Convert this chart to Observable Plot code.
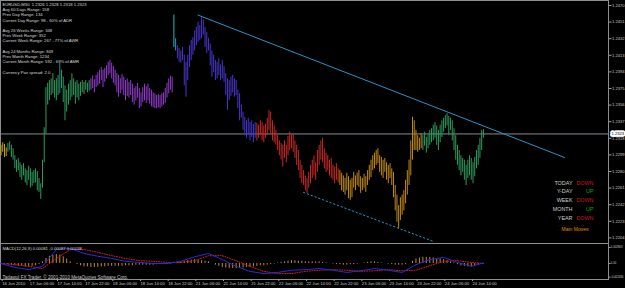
<!DOCTYPE html>
<html><head><meta charset="utf-8">
<script src="https://cdn.jsdelivr.net/npm/d3@7"></script>
<script src="https://cdn.jsdelivr.net/npm/@observablehq/plot@0.6"></script>
<style>
html,body{margin:0;padding:0;background:#000;}
#chart{width:625px;height:288px;overflow:hidden;position:relative;background:#000;}
#chart svg{display:block;}
</style></head><body><div id="chart"></div>
<script>
// ---------- DATA ----------
const symbol = "EURUSD,M30";
const lastBar = {open: 1.2326, high: 1.2328, low: 1.2318, close: 1.2323};

// 30-minute bars, 16 Jun 22:00 .. 24 Jun 17:30 (high / low)
const highs = [
1.2310,1.2313,1.2311,1.2307,
1.2312,1.2314,1.2310,1.2306,1.2298,1.2293,1.2295,1.2290,1.2287,1.2289,
1.2283,1.2281,1.2286,1.2283,1.2279,1.2281,1.2283,1.2280,1.2272,1.2266,
1.2293,1.2330,1.2376,1.2381,1.2384,1.2386,1.2392,1.2384,1.2386,1.2390,
1.2404,1.2396,1.2388,1.2378,1.2373,1.2380,1.2384,1.2392,1.2386,1.2382,
1.2384,1.2380,1.2382,1.2384,1.2382,1.2384,1.2381,1.2384,
1.2386,1.2389,1.2385,1.2390,1.2393,1.2396,1.2399,1.2396,1.2398,1.2401,
1.2405,1.2407,1.2404,1.2400,1.2396,1.2392,1.2390,1.2386,1.2391,1.2388,
1.2384,1.2386,1.2382,1.2384,1.2380,1.2375,1.2377,1.2381,1.2375,1.2370,
1.2376,1.2380,1.2377,1.2380,1.2375,1.2373,1.2370,1.2369,1.2367,1.2368,
1.2367,1.2369,1.2370,1.2375,1.2381,1.2386,1.2389,1.2388,
1.2459,1.2432,1.2424,1.2421,1.2418,1.2422,1.2413,1.2405,1.2413,1.2424,
1.2430,1.2433,1.2441,1.2445,1.2451,1.2447,1.2456,1.2453,1.2445,1.2439,
1.2432,1.2426,1.2418,1.2413,1.2407,1.2405,1.2409,1.2402,1.2407,1.2400,
1.2392,1.2386,1.2384,1.2388,1.2390,1.2386,1.2384,1.2373,1.2369,1.2356,
1.2348,1.2342,1.2338,1.2341,1.2336,1.2338,1.2334,1.2336,
1.2335,1.2333,1.2338,1.2336,1.2332,1.2334,1.2341,1.2350,1.2348,1.2338,
1.2332,1.2327,1.2321,1.2315,1.2312,1.2310,1.2315,1.2310,1.2320,1.2325,
1.2322,1.2323,1.2315,1.2310,1.2304,1.2293,1.2287,1.2281,1.2275,1.2272,
1.2279,1.2287,1.2293,1.2298,1.2290,1.2304,1.2310,1.2315,1.2318,1.2306,
1.2301,1.2298,1.2293,1.2295,1.2287,1.2285,1.2289,1.2283,
1.2281,1.2278,1.2275,1.2272,1.2278,1.2274,1.2270,1.2272,1.2279,1.2275,
1.2278,1.2281,1.2274,1.2272,1.2277,1.2274,1.2281,1.2287,1.2293,1.2298,
1.2301,1.2304,1.2306,1.2298,1.2296,1.2293,1.2295,1.2290,1.2287,1.2289,
1.2283,1.2279,1.2264,1.2253,1.2241,1.2250,1.2253,1.2258,1.2270,1.2281,
1.2293,1.2315,1.2342,1.2338,1.2327,1.2321,1.2318,1.2323,
1.2321,1.2325,1.2319,1.2322,1.2327,1.2329,1.2333,1.2336,1.2332,1.2327,
1.2333,1.2338,1.2341,1.2344,1.2346,1.2343,1.2341,1.2338,1.2329,1.2321,
1.2310,1.2304,1.2298,1.2295,1.2293,1.2287,1.2293,1.2298,1.2295,1.2290,
1.2296,1.2304,1.2310,1.2318,1.2327,1.2328
];
const lows = [
1.2298,1.2302,1.2296,1.2297,
1.2302,1.2304,1.2296,1.2293,1.2283,1.2279,1.2281,1.2273,1.2270,1.2275,
1.2267,1.2264,1.2270,1.2261,1.2263,1.2266,1.2267,1.2258,1.2256,1.2248,
1.2261,1.2290,1.2323,1.2356,1.2361,1.2367,1.2369,1.2364,1.2361,1.2367,
1.2369,1.2375,1.2359,1.2338,1.2348,1.2356,1.2361,1.2365,1.2367,1.2357,
1.2364,1.2361,1.2366,1.2370,1.2368,1.2373,1.2370,1.2372,
1.2373,1.2375,1.2370,1.2376,1.2378,1.2380,1.2384,1.2376,1.2382,1.2386,
1.2390,1.2392,1.2386,1.2381,1.2378,1.2370,1.2365,1.2369,1.2373,1.2367,
1.2361,1.2366,1.2364,1.2367,1.2359,1.2356,1.2361,1.2364,1.2352,1.2354,
1.2359,1.2361,1.2358,1.2361,1.2357,1.2354,1.2353,1.2352,1.2352,1.2353,
1.2352,1.2354,1.2356,1.2358,1.2364,1.2369,1.2373,1.2370,
1.2422,1.2418,1.2409,1.2405,1.2404,1.2407,1.2378,1.2365,1.2384,1.2399,
1.2407,1.2413,1.2418,1.2424,1.2428,1.2430,1.2432,1.2436,1.2422,1.2415,
1.2418,1.2401,1.2388,1.2393,1.2384,1.2386,1.2390,1.2384,1.2386,1.2382,
1.2367,1.2350,1.2361,1.2366,1.2370,1.2365,1.2367,1.2352,1.2338,1.2341,
1.2327,1.2321,1.2318,1.2321,1.2315,1.2319,1.2313,1.2318,
1.2315,1.2318,1.2321,1.2315,1.2313,1.2318,1.2321,1.2327,1.2322,1.2315,
1.2313,1.2310,1.2304,1.2298,1.2293,1.2285,1.2295,1.2290,1.2298,1.2304,
1.2306,1.2302,1.2295,1.2287,1.2281,1.2272,1.2266,1.2264,1.2258,1.2255,
1.2261,1.2266,1.2272,1.2275,1.2270,1.2279,1.2287,1.2293,1.2290,1.2283,
1.2279,1.2281,1.2275,1.2272,1.2270,1.2266,1.2270,1.2267,
1.2264,1.2258,1.2256,1.2253,1.2258,1.2249,1.2247,1.2250,1.2261,1.2258,
1.2264,1.2262,1.2255,1.2258,1.2261,1.2256,1.2264,1.2270,1.2273,1.2281,
1.2283,1.2287,1.2289,1.2279,1.2275,1.2272,1.2279,1.2270,1.2266,1.2272,
1.2264,1.2250,1.2235,1.2222,1.2215,1.2224,1.2230,1.2235,1.2243,1.2253,
1.2264,1.2275,1.2293,1.2304,1.2304,1.2302,1.2304,1.2306,
1.2304,1.2309,1.2301,1.2306,1.2310,1.2313,1.2315,1.2318,1.2310,1.2304,
1.2313,1.2319,1.2325,1.2329,1.2332,1.2321,1.2327,1.2315,1.2304,1.2293,
1.2287,1.2281,1.2275,1.2279,1.2270,1.2264,1.2272,1.2275,1.2270,1.2266,
1.2274,1.2283,1.2287,1.2295,1.2304,1.2318
];

// first bar index of each trading day and its colour
const dayStarts = [0, 4, 52, 100, 148, 196, 244];
const dayColors = ["#c4a21a", "#2f9a5c", "#8e3cc8", "#4636c8", "#c42a28", "#c08a10", "#2f9a5c"];
const specialBars = [34, 100, 101];
const specialColors = ["#1e8c8c", "#22b8c2", "#1fa0aa"];

// trend lines (bar index, price)
const trendUpper = [{i: 114, p: 1.2459}, {i: 326, p: 1.2296}];
const trendLower = [{i: 175, p: 1.2256}, {i: 250, p: 1.2200}];

// price axis
const priceTicks = [1.2470,1.2451,1.2432,1.2413,1.2394,1.2375,1.2356,1.2337,1.2318,1.2299,1.2280,1.2261,1.2242,1.2223,1.2204];

// time axis
const timeTickIdx = [0,16,32,48,64,80,96,112,128,144,160,176,192,208,224,240,256,272];
const timeTickLabels = ["16 Jun 2010","17 Jun 06:00","17 Jun 14:00","17 Jun 22:00","18 Jun 06:00","18 Jun 14:00","18 Jun 22:00","21 Jun 06:00","21 Jun 14:00","21 Jun 22:00","22 Jun 06:00","22 Jun 14:00","22 Jun 22:00","23 Jun 06:00","23 Jun 14:00","23 Jun 22:00","24 Jun 06:00","24 Jun 14:00"];

// MACD (12,26,9) read every 8 bars
const macdIdx = [0,8,16,24,32,40,48,56,64,72,80,88,96,104,112,120,128,136,144,152,160,168,176,184,192,200,208,216,224,232,240,248,256,264,272,279];
const macdMain = [0.0000,-0.0007,-0.0011,-0.0005,0.0025,0.0027,0.0018,0.0013,0.0009,0.0004,0.0002,0.0000,0.0000,0.0004,0.0012,0.0018,0.0007,-0.0005,-0.0014,-0.0018,-0.0016,-0.0012,-0.0011,-0.0009,-0.0012,-0.0016,-0.0013,-0.0009,-0.0012,-0.0016,-0.0002,0.0007,0.0011,0.0002,-0.0005,0.0001];
const macdSignal = [0.0000,-0.0002,-0.0005,-0.0009,0.0009,0.0025,0.0025,0.0020,0.0014,0.0009,0.0005,0.0004,0.0002,0.0002,0.0005,0.0014,0.0014,0.0005,-0.0005,-0.0014,-0.0018,-0.0018,-0.0014,-0.0012,-0.0011,-0.0012,-0.0014,-0.0013,-0.0011,-0.0013,-0.0012,-0.0004,0.0004,0.0005,0.0002,0.0000];
// histogram, every 2 bars starting at bar 0
const macdHist = [
0.0000,-0.0001,-0.0002,-0.0003,-0.0004,-0.0005,-0.0005,-0.0006,-0.0006,-0.0005,-0.0004,-0.0002,
0.0003,0.0009,0.0013,0.0015,0.0016,0.0015,0.0012,0.0008,0.0003,0.0000,-0.0002,-0.0004,
-0.0006,-0.0006,-0.0007,-0.0007,-0.0007,-0.0006,-0.0006,-0.0005,-0.0005,-0.0005,-0.0005,-0.0005,
-0.0004,-0.0004,-0.0004,-0.0003,-0.0003,-0.0003,-0.0003,-0.0003,-0.0003,-0.0002,-0.0002,-0.0002,
-0.0002,-0.0001,0.0001,0.0002,0.0003,0.0004,0.0005,0.0006,0.0007,0.0006,0.0005,0.0004,
0.0003,0.0000,-0.0003,-0.0005,-0.0007,-0.0008,-0.0009,-0.0009,-0.0009,-0.0009,-0.0008,-0.0007,
-0.0007,-0.0006,-0.0005,-0.0004,-0.0004,-0.0003,-0.0002,-0.0001,0.0001,0.0002,0.0003,0.0004,
0.0005,0.0005,0.0004,0.0004,0.0003,0.0003,0.0003,0.0003,0.0003,0.0002,0.0001,0.0000,
-0.0001,-0.0002,-0.0002,-0.0003,-0.0003,-0.0002,-0.0002,-0.0001,0.0000,0.0001,0.0002,0.0003,
0.0003,0.0002,0.0001,0.0000,-0.0001,-0.0002,-0.0003,-0.0003,-0.0003,-0.0002,0.0000,0.0004,
0.0008,0.0010,0.0011,0.0011,0.0011,0.0010,0.0009,0.0008,0.0007,0.0005,0.0003,0.0001,
-0.0002,-0.0004,-0.0005,-0.0006,-0.0006,-0.0005,-0.0003,-0.0001
];
const macdTickValues = [0.002863, 0, -0.002436];
const macdTickLabels = ["0.002863", "0.00", "-0.002436"];
const macdLabel = "MACD(12,26,9) 0.00081 -0.00087 0.00038";

// info panel text
const infoLines = [
  "Avg 60 Days Range: 158",
  "Prev Day Range: 134",
  "Current Day Range: 98 - 60% of ADR",
  "",
  "Avg 26 Weeks Range: 348",
  "Prev Week Range: 352",
  "Current Week Range: 267 - 77% of AWR",
  "",
  "Avg 24 Months Range: 849",
  "Prev Month Range: 1234",
  "Current Month Range: 592 - 69% of AMR",
  "",
  "Currency Pair spread: 2.0"
];
const moveLabels = ["TODAY", "Y-DAY", "WEEK", "MONTH", "YEAR"];
const moveValues = ["DOWN", "UP", "DOWN", "UP", "DOWN"];
const moveTitle = "Main Moves";
const copyright = "Tadawul FX Trader, \u00A9 2001-2010 MetaQuotes Software Corp.";

// ---------- BUILD ----------
const FONT = "'Liberation Sans', Arial, sans-serif";
const visibleBars = [-0.29, 351.36];

function dayOf(i) { let d = 0; for (let k = 0; k < dayStarts.length; k++) if (i >= dayStarts[k]) d = k; return d; }
const bars = highs.map((h, i) => {
  const s = specialBars.indexOf(i);
  return {i, high: h, low: lows[i], color: s >= 0 ? specialColors[s] : dayColors[dayOf(i)]};
});
const macdRows = macdIdx.map((i, k) => ({i, main: macdMain[k], signal: macdSignal[k]}));
const histRows = macdHist.map((v, k) => ({i: k * 2, v}));
const header = `${symbol}  ${lastBar.open.toFixed(4)} ${lastBar.high.toFixed(4)} ${lastBar.low.toFixed(4)} ${lastBar.close.toFixed(4)}`;
const timeLabelMap = new Map(timeTickIdx.map((t, k) => [t, timeTickLabels[k]]));
const macdLabelMap = new Map(macdTickValues.map((t, k) => [t, macdTickLabels[k]]));

const moveMarks = [];
moveLabels.forEach((lab, k) => {
  const dy = -59 + k * 8.75;
  moveMarks.push(Plot.text([lab], {frameAnchor: "bottom-right", textAnchor: "end", dx: -36, dy, fontSize: 5.4, fill: "#cfcfcf"}));
  moveMarks.push(Plot.text([moveValues[k]], {frameAnchor: "bottom-right", textAnchor: "end", dx: -15, dy, fontSize: 5.4, fill: moveValues[k] === "UP" ? "#1aa81a" : "#cc1a1a"}));
});
moveMarks.push(Plot.text([". . . . . . . . . . . ."], {frameAnchor: "bottom-right", textAnchor: "start", dx: -50, dy: -18, fontSize: 4, fill: "#b8780e"}));
moveMarks.push(Plot.text([moveTitle], {frameAnchor: "bottom-right", textAnchor: "start", dx: -47, dy: -12.5, fontSize: 5, fill: "#e08a12"}));

const mainPlot = Plot.plot({
  width: 625, height: 243,
  marginTop: 0, marginRight: 17, marginBottom: 0, marginLeft: 0,
  style: {background: "#000", color: "#c8c8c8", fontFamily: FONT, overflow: "visible"},
  x: {type: "linear", domain: visibleBars, axis: null},
  y: {type: "linear", domain: [priceTicks[0], priceTicks[priceTicks.length - 1]], range: [5, 237.4], label: null},
  marks: [
    Plot.frame({stroke: "#8e8e8e"}),
    Plot.ruleY([lastBar.close], {stroke: "#858b94", strokeWidth: 1}),
    Plot.line(trendUpper, {x: "i", y: "p", stroke: "#2a93c6", strokeWidth: 1}),
    Plot.line(trendLower, {x: "i", y: "p", stroke: "#2a93c6", strokeWidth: 1, strokeDasharray: "1.5,2.5"}),
    Plot.ruleX(bars, {x: "i", y1: "low", y2: "high", stroke: d => d.color, strokeWidth: 1}),
    Plot.axisY(priceTicks, {anchor: "right", label: null, tickSize: 2.5, tickPadding: 1, tickFormat: d => d.toFixed(4), fontSize: 4.1, stroke: "#a0a0a0", fill: "#c8c8c8"}),
    Plot.text([lastBar.close], {y: d => d, frameAnchor: "right", textAnchor: "start", dx: 3, text: d => d.toFixed(4), fill: "#000", stroke: "#fff", strokeWidth: 3.5, paintOrder: "stroke", fontSize: 4.1}),
    Plot.text([[header, ...infoLines].join("\n")], {frameAnchor: "top-left", lineAnchor: "top", textAnchor: "start", dx: 2, dy: 1.8, fontSize: 4.2, lineHeight: 1.24, fill: "#d8d8d8"}),
    ...moveMarks
  ]
});

const macdPlot = Plot.plot({
  width: 625, height: 45,
  marginTop: 0, marginRight: 17, marginBottom: 9, marginLeft: 0,
  style: {background: "#000", color: "#c8c8c8", fontFamily: FONT, overflow: "visible"},
  x: {type: "linear", domain: visibleBars, label: null},
  y: {type: "linear", domain: [0.002863, -0.0025], range: [4, 34], label: null},
  marks: [
    Plot.frame({stroke: "#8e8e8e"}),
    Plot.ruleX(histRows, {x: "i", y1: 0, y2: "v", stroke: "#c8881a", strokeWidth: 1}),
    Plot.line(macdRows, {x: "i", y: "signal", stroke: "#d02020", strokeWidth: 1, strokeDasharray: "1,1.5"}),
    Plot.line(macdRows, {x: "i", y: "main", stroke: "#2a2ae0", strokeWidth: 1}),
    Plot.axisY(macdTickValues, {anchor: "right", label: null, tickSize: 1.5, tickPadding: 0.8, tickFormat: d => macdLabelMap.get(d), fontSize: 2.8, stroke: "#a0a0a0", fill: "#c8c8c8"}),
    Plot.axisX(timeTickIdx, {anchor: "bottom", label: null, tickSize: 2, tickPadding: 0.8, tickFormat: d => timeLabelMap.get(d), textAnchor: "start", dx: 1.2, fontSize: 4.2, stroke: "#a0a0a0", fill: "#c8c8c8"}),
    Plot.text([macdLabel], {frameAnchor: "top-left", textAnchor: "start", dx: 2, dy: 4, fontSize: 4.2, fill: "#d8d8d8"}),
    Plot.text([copyright], {frameAnchor: "top-left", textAnchor: "start", dx: 2, dy: 32, fontSize: 4.6, fill: "#c8c8c8"})
  ]
});

document.getElementById("chart").append(mainPlot, macdPlot);
</script></body></html>
